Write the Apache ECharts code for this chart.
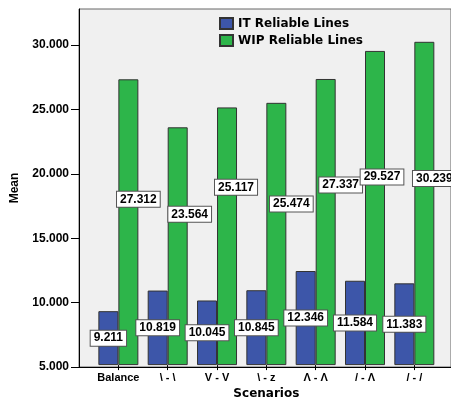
<!DOCTYPE html>
<html>
<head>
<meta charset="utf-8">
<script src="https://cdn.jsdelivr.net/npm/echarts@6/dist/echarts.min.js"></script>
<style>
html,body{margin:0;padding:0;background:#fff;}
#c{width:451px;height:405px;}
</style>
</head>
<body>
<div id="c"></div>
<script>
var categories = ['Balance', '\\ - \\', 'V - V', '\\ - z', '\u039B - \u039B', '/ - \u039B', '/ - /'];
var itValues = [9.211, 10.819, 10.045, 10.845, 12.346, 11.584, 11.383];
var wipValues = [27.312, 23.564, 25.117, 25.474, 27.337, 29.527, 30.239];
var seriesNames = ['IT Reliable Lines', 'WIP Reliable Lines'];
var yTicks = [5, 10, 15, 20, 25, 30];
var yMin = 5, yMax = 32.8;
// label nudges (pixel offsets of the WIP value boxes, style only)
var wipLabelNudge = [[10,-23],[12,-32],[9,-49],[15,-30],[15,-37],[7,-31],[10,-25]];

var boldArial = 'Liberation Sans, Arial, sans-serif';
var boldWide = 'DejaVu Sans, Verdana, sans-serif';

var labelBox = {
  show: true,
  position: 'inside',
  formatter: function(p){ return Number(p.value).toFixed(3); },
  fontFamily: boldArial,
  fontWeight: 'bold',
  fontSize: 12,
  color: '#000',
  backgroundColor: '#fff',
  borderColor: '#555',
  borderWidth: 1,
  padding: [2, 3, 1, 3]
};

var chart = echarts.init(document.getElementById('c'), null, {renderer: 'canvas'});
chart.setOption({
  animation: false,
  backgroundColor: '#fff',
  grid: [
    {left: 79, top: 9, right: -2, bottom: 38, show: true, backgroundColor: '#f0f0f0', borderColor: '#666', borderWidth: 1, containLabel: false},
    {left: 93.7, top: 9, right: 12, bottom: 38, containLabel: false}
  ],
  legend: {
    data: seriesNames,
    orient: 'vertical',
    left: 214,
    top: 12,
    itemWidth: 13,
    itemHeight: 11,
    itemGap: 4,
    icon: 'rect',
    textStyle: {fontFamily: boldWide, fontWeight: 'bold', fontSize: 12, color: '#000'}
  },
  xAxis: [
    {type: 'value', gridIndex: 0, min: 0, max: 1, axisLine: {show: true, lineStyle: {color: '#000', width: 1}}, axisTick: {show: false}, axisLabel: {show: false}, splitLine: {show: false}},
    {type: 'category', gridIndex: 1, data: categories,
     axisLine: {show: false},
     axisTick: {show: true, alignWithLabel: true, interval: 0, length: 5, lineStyle: {color: '#000'}},
     axisLabel: {interval: 0, margin: 7, fontFamily: boldArial, fontWeight: 'bold', fontSize: 11, color: '#000'},
     name: 'Scenarios', nameLocation: 'middle', nameGap: 21,
     nameTextStyle: {fontFamily: boldWide, fontWeight: 'bold', fontSize: 12, color: '#000'}
    }
  ],
  yAxis: [
    {type: 'value', gridIndex: 0, min: yMin, max: yMax, interval: 5,
     axisLine: {show: true, lineStyle: {color: '#000'}},
     axisTick: {show: true, length: 8, customValues: yTicks, lineStyle: {color: '#000'}},
     axisLabel: {margin: 10, customValues: yTicks, fontFamily: boldArial, fontWeight: 'bold', fontSize: 12, color: '#000',
       formatter: function(v){ return Number(v).toFixed(3); }},
     splitLine: {show: false},
     name: 'Mean', nameLocation: 'middle', nameGap: 58, nameRotate: 90,
     nameTextStyle: {fontFamily: boldArial, fontWeight: 'bold', fontSize: 12, color: '#000'}
    },
    {type: 'value', gridIndex: 1, min: yMin, max: yMax, interval: 5, startValue: yMin, show: false, splitLine: {show: false}}
  ],
  series: [
    {
      name: seriesNames[0], type: 'bar', xAxisIndex: 1, yAxisIndex: 1,
      data: itValues, barWidth: 20, barGap: '0%',
      itemStyle: {color: '#3d56a9', borderColor: '#333', borderWidth: 1},
      label: labelBox
    },
    {
      name: seriesNames[1], type: 'bar', xAxisIndex: 1, yAxisIndex: 1,
      data: wipValues.map(function(v, i){ return {value: v, label: {offset: wipLabelNudge[i]}}; }),
      barWidth: 20, barGap: '0%',
      itemStyle: {color: '#2db54a', borderColor: '#333', borderWidth: 1},
      label: labelBox
    }
  ]
});
</script>
</body>
</html>
